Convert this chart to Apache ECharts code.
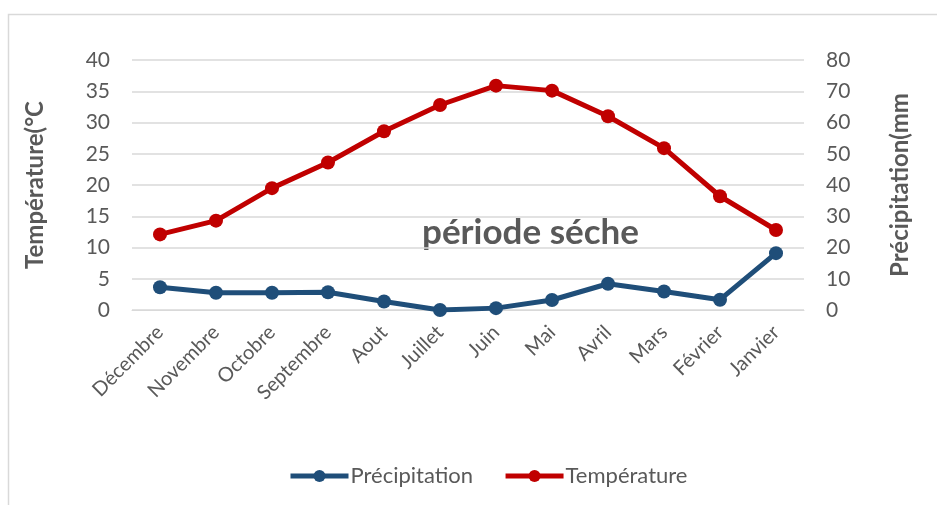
<!DOCTYPE html>
<html><head><meta charset="utf-8">
<script src="https://cdn.jsdelivr.net/npm/echarts@6/dist/echarts.min.js"></script>
<style>html,body{margin:0;padding:0;background:#fff}#c{width:937px;height:505px}</style>
</head><body><div id="c"></div>
<script>
const months = ['Décembre','Novembre','Octobre','Septembre','Aout','Juillet','Juin','Mai','Avril','Mars','Février','Janvier'];
const precipitation = [7.3, 5.5, 5.5, 5.7, 2.7, 0.0, 0.6, 3.2, 8.4, 5.9, 3.3, 18.2];
const temperature = [12.1, 14.3, 19.5, 23.6, 28.6, 32.8, 35.9, 35.1, 31.0, 25.9, 18.2, 12.8];
const leftTicks = {min: 0, max: 40, interval: 5};
const rightTicks = {min: 0, max: 80, interval: 10};
const annotation = 'période séche';

const font = 'Lato, "Open Sans", sans-serif';
const gray = '#595959';
const chart = echarts.init(document.getElementById('c'), null, {renderer: 'canvas'});
chart.setOption({
  animation: false,
  backgroundColor: '#fff',
  textStyle: {fontFamily: font},
  graphic: [
    {type: 'rect', shape: {x: 8.5, y: 14.5, width: 940, height: 500}, style: {fill: 'none', stroke: '#d9d9d9', lineWidth: 1.5}, silent: true},
    {type: 'text', left: 422, top: 215, style: {text: annotation, font: 'bold 35px ' + font, fill: gray}}
  ],
  grid: {left: 132, right: 133, top: 60, bottom: 195, containLabel: false},
  legend: {
    bottom: 13, left: 283, itemWidth: 58, itemHeight: 15, itemGap: 30,
    lineStyle: {width: 5},
    textStyle: {fontSize: 22, color: gray, fontFamily: font, padding: [0, 0, 0, -3]},
    data: ['Précipitation', 'Température']
  },
  xAxis: {
    type: 'category', data: months, boundaryGap: true,
    axisLine: {show: true, lineStyle: {color: '#d9d9d9'}}, axisTick: {show: false},
    axisLabel: {rotate: 45, fontSize: 20, color: gray, margin: 19, interval: 0, fontFamily: font}
  },
  yAxis: [
    {type: 'value', min: leftTicks.min, max: leftTicks.max, interval: leftTicks.interval,
     name: 'Température(°C', nameLocation: 'middle', nameGap: 85, nameRotate: 90,
     nameTextStyle: {fontSize: 24, fontWeight: 'bold', color: gray, fontFamily: font},
     axisLabel: {fontSize: 21, color: gray, margin: 22, fontFamily: font},
     axisLine: {show: false}, axisTick: {show: false},
     splitLine: {lineStyle: {color: '#d9d9d9', width: 1.5}}},
    {type: 'value', min: rightTicks.min, max: rightTicks.max, interval: rightTicks.interval,
     name: 'Précipitation(mm', nameLocation: 'middle', nameGap: 84, nameRotate: 90,
     nameTextStyle: {fontSize: 24, fontWeight: 'bold', color: gray, fontFamily: font},
     axisLabel: {fontSize: 21, color: gray, margin: 22, fontFamily: font},
     axisLine: {show: false}, axisTick: {show: false}, splitLine: {show: false}}
  ],
  series: [
    {name: 'Précipitation', type: 'line', yAxisIndex: 1, data: precipitation,
     symbol: 'circle', symbolSize: 14, lineStyle: {width: 5, color: '#1f4e79'},
     itemStyle: {color: '#1f4e79'}, z: 3},
    {name: 'Température', type: 'line', yAxisIndex: 0, data: temperature,
     symbol: 'circle', symbolSize: 14, lineStyle: {width: 5, color: '#c00000'},
     itemStyle: {color: '#c00000'}, z: 3}
  ]
});
</script></body></html>
